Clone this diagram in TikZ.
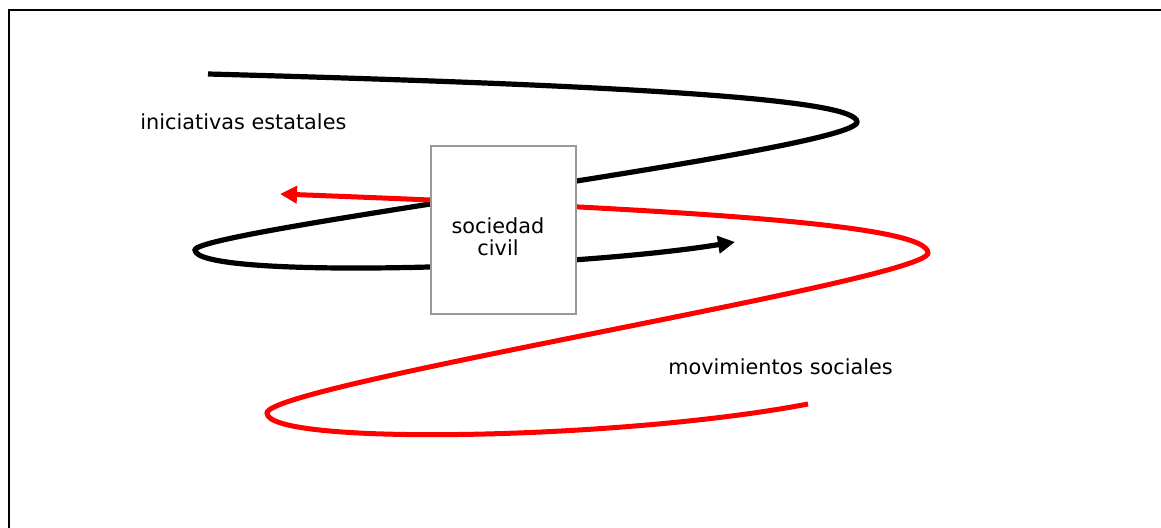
\documentclass[tikz,border=0pt]{standalone}
\usepackage{fontspec}
\setmainfont{DejaVu Sans}
\usetikzlibrary{arrows.meta}
\begin{document}
\begin{tikzpicture}[x=0.5pt,y=-0.5pt,
  frame/.style={line width=1.4pt,black},
  blackflow/.style={line width=2.6pt,black},
  redflow/.style={line width=2.5pt,red},
  tip/.style={-{Triangle[length=8.5pt,width=8.5pt]}},
  socbox/.style={draw=black!40,line width=0.8pt,fill=white,minimum width=72.5pt,minimum height=84pt,inner sep=0pt},
  lbl/.style={font=\fontsize{10.4}{12}\selectfont,inner sep=0pt}]
\useasboundingbox (0,0) rectangle (1161,528);
% frame
\coordinate (fa) at (9,540);
\coordinate (fb) at (9,10);
\coordinate (fc) at (1175,10);
\draw[frame] (fa) -- (fb) -- (fc);
% black curve (iniciativas estatales)
\coordinate (b0) at (208,74);
\coordinate (b1) at (857,122);
\coordinate (b2) at (195,250);
\coordinate (b3) at (735,242);
\draw[blackflow,tip] (b0) .. controls (650,86) and (857,100) .. (b1)
  .. controls (857,150) and (195,230) .. (b2)
  .. controls (195,279) and (560,270) .. (b3);
% red curve (movimientos sociales)
\coordinate (r0) at (280,194);
\coordinate (r1) at (928,253);
\coordinate (r2) at (267,413);
\coordinate (r3) at (808,404);
\draw[redflow,tip] (r3) .. controls (620,440) and (267,446) .. (r2)
  .. controls (267,385) and (928,280) .. (r1)
  .. controls (928,225) and (700,210) .. (r0);
% box
\node[socbox] (soc) at (503.5,230) {};
\node[lbl,align=center] (soclbl) at (498,237) {sociedad\\[-1pt]civil};
% labels
\node[lbl,anchor=base west] (ini) at (140,130) {iniciativas estatales};
\node[lbl,anchor=base west] (mov) at (668,375) {movimientos sociales};
\end{tikzpicture}
\end{document}
